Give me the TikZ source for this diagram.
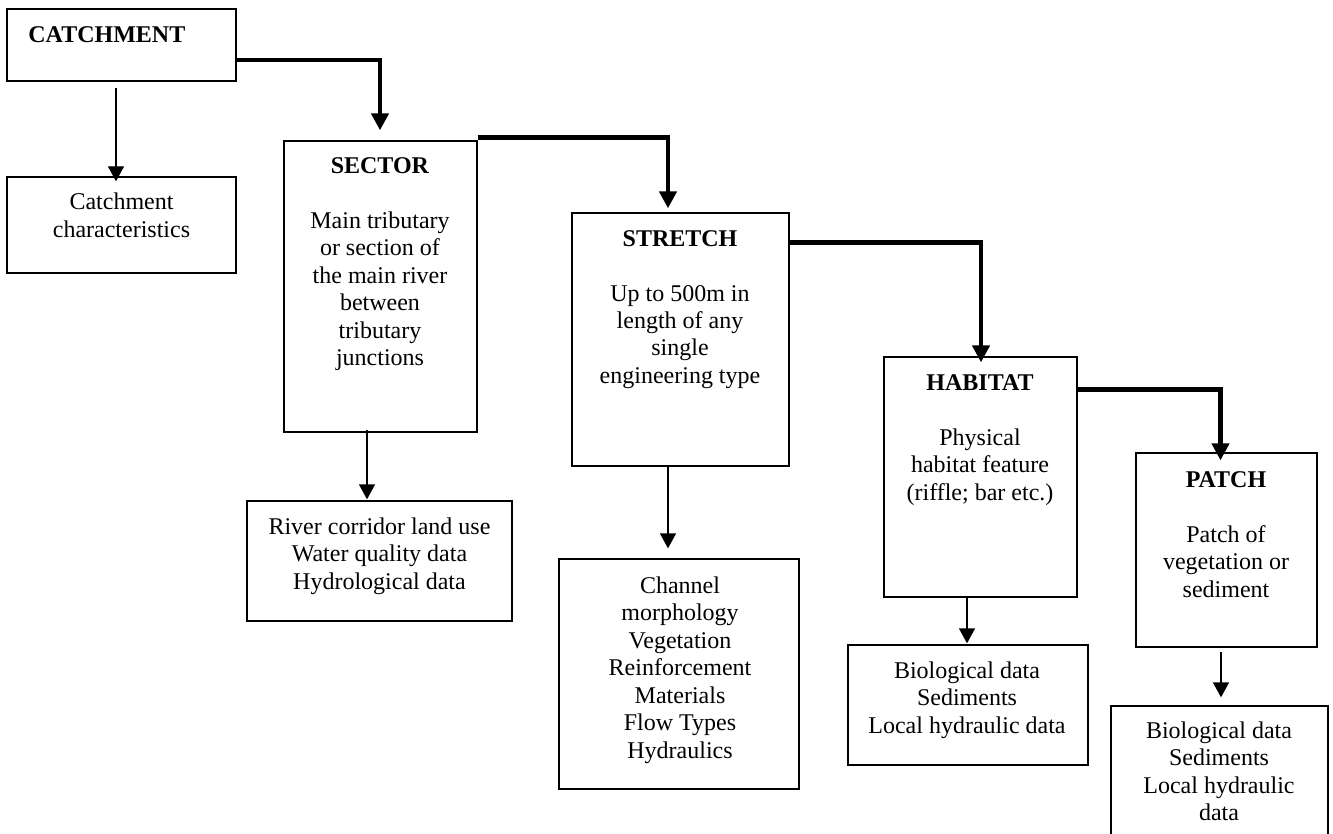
\documentclass[tikz,border=0pt]{standalone}
\usepackage{fontspec}
\setmainfont{Liberation Serif}
\usetikzlibrary{arrows.meta,fit}
\begin{document}
\begin{tikzpicture}[x=0.5pt,y=-0.5pt,
  box/.style={draw,line width=0.65pt,inner sep=0pt,fit={#1}},
  txt/.style={align=center,inner sep=0pt,font=\fontsize{12}{13.75}\selectfont,anchor=base},
  feed/.style={-{Triangle[length=7.5pt,width=8pt]},line width=0.65pt},
  flow/.style={-{Triangle[length=8.5pt,width=8.5pt]},line width=2.3pt},
]
\useasboundingbox (0,0) rectangle (1333,834);

% frames of the hierarchy levels and their data boxes
\node[box={(7,9) (236,81)}] (catch) {};
\node[box={(7,177) (236,273)}] (cchar) {};
\node[box={(284,141) (477,432)}] (sector) {};
\node[box={(247,501) (512,621)}] (river) {};
\node[box={(572,213) (789,466)}] (stretch) {};
\node[box={(559,559) (799,789)}] (channel) {};
\node[box={(884,357) (1077,597)}] (habitat) {};
\node[box={(848,645) (1088,765)}] (habdata) {};
\node[box={(1136,453) (1317,647)}] (patch) {};
\node[box={(1111,706) (1328,870)}] (patchdata) {};

% texts (each placed by the baseline of its last line)
\node[txt,anchor=base west] (catchT) at (28,43) {\textbf{CATCHMENT}};
\node[txt] (ccharT) at (121.5,237.5) {Catchment\\characteristics};
\node[txt] (sectorT) at (380,365.5) {\textbf{SECTOR}\\[13.75pt]Main tributary\\or section of\\the main river\\between\\tributary\\junctions};
\node[txt] (riverT) at (379.5,589) {River corridor land use\\Water quality data\\Hydrological data};
\node[txt] (stretchT) at (680,383.5) {\textbf{STRETCH}\\[13.75pt]Up to 500m in\\length of any\\single\\engineering type};
\node[txt] (channelT) at (680,758) {Channel\\morphology\\Vegetation\\Reinforcement\\Materials\\Flow Types\\Hydraulics};
\node[txt] (habitatT) at (980,500) {\textbf{HABITAT}\\[13.75pt]Physical\\habitat feature\\(riffle; bar etc.)};
\node[txt] (habdataT) at (967,733) {Biological data\\Sediments\\Local hydraulic data};
\node[txt] (patchT) at (1226,597) {\textbf{PATCH}\\[13.75pt]Patch of\\vegetation or\\sediment};
\node[txt] (patchdataT) at (1219,820.5) {Biological data\\Sediments\\Local hydraulic\\data};

% thin arrows to the data collected at each level
\draw[feed] ([xshift=-2.75pt,yshift=-3pt]catch.south) -- ([xshift=-2.75pt,yshift=-2.5pt]cchar.north);
\draw[feed] ([xshift=-6.75pt,yshift=1.5pt]sector.south) -- ([xshift=-6.25pt,yshift=0.5pt]river.north);
\draw[feed] ([xshift=-6.25pt]stretch.south) -- ([xshift=-5.5pt,yshift=5pt]channel.north);
\draw[feed] ([xshift=-6.75pt]habitat.south) -- ([xshift=-0.5pt,yshift=0.5pt]habdata.north);
\draw[feed] ([xshift=-2.75pt,yshift=-2pt]patch.south) -- ([xshift=0.75pt,yshift=4pt]patchdata.north);

% thick arrows down the hierarchy
\draw[flow] ([yshift=-7.5pt]catch.east) -| ([xshift=-0.25pt,yshift=5pt]sector.north);
\draw[flow] ([yshift=1.5pt]sector.north east) -| ([xshift=-6.25pt,yshift=2pt]stretch.north);
\draw[flow] ([yshift=-15pt]stretch.north east) -| ([xshift=0.25pt,yshift=-3pt]habitat.north);
\draw[flow] ([yshift=-16.5pt]habitat.north east) -| ([xshift=-3pt,yshift=-4pt]patch.north);
\end{tikzpicture}
\end{document}
